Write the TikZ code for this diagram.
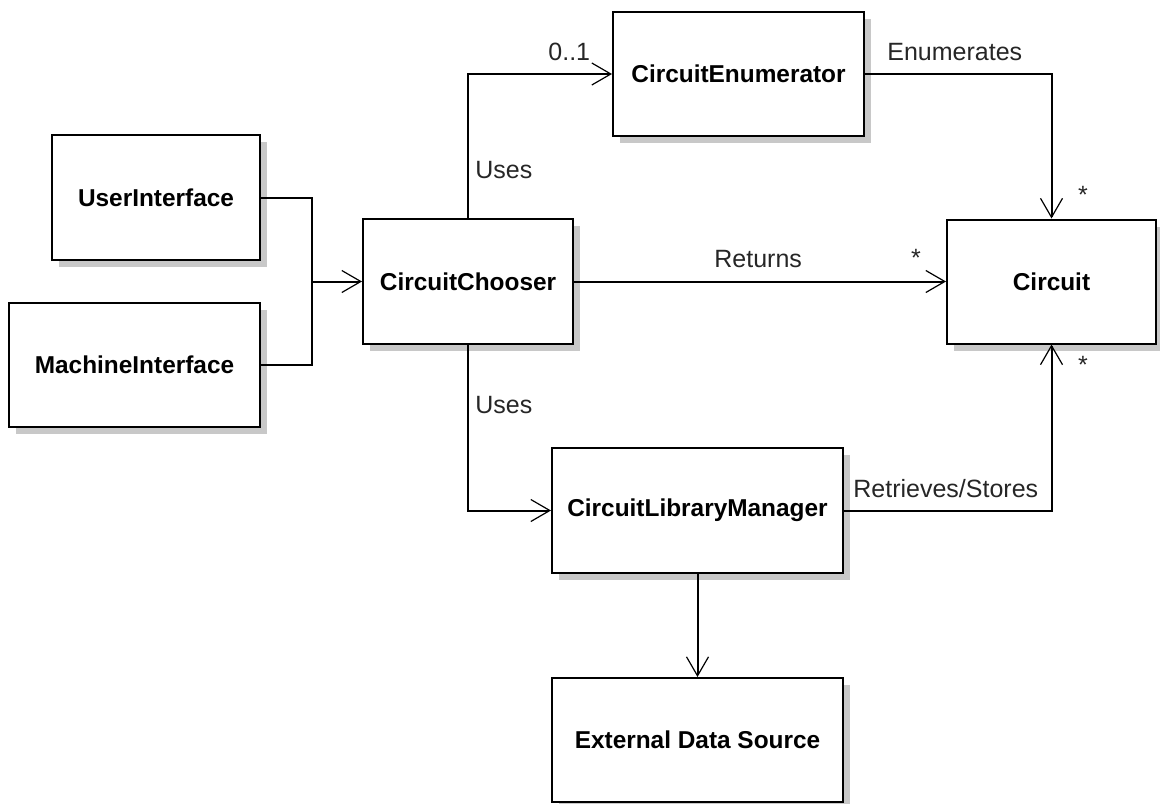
\documentclass[tikz,border=0pt]{standalone}
\usepackage{fontspec}
\setmainfont{Liberation Sans}
\usetikzlibrary{arrows.meta,shadows}
\definecolor{shadowgray}{RGB}{200,200,200}
\tikzset{
  cls/.style={draw=black, line width=1pt, fill=white, inner sep=0pt,
    font=\fontsize{12.2}{14}\selectfont\bfseries,
    drop shadow={shadow xshift=3.5pt, shadow yshift=-3.5pt, fill=shadowgray, opacity=1}},
  conn/.style={line width=1pt, draw=black},
  arr/.style={conn, -{Straight Barb[length=9.5pt, width=11pt, line width=0.6pt]}},
  lbl/.style={inner sep=0pt, font=\fontsize{12.5}{14}\selectfont, text=black!85},
}
\begin{document}
\begin{tikzpicture}[x=0.5pt, y=-0.5pt]
\useasboundingbox (0,0) rectangle (1160,803);

\node[cls, minimum width=104pt, minimum height=62.5pt] (ui) at (156,197.5) {UserInterface};
\node[cls, minimum width=125.5pt, minimum height=62pt] (mi) at (134.5,365) {MachineInterface};
\node[cls, minimum width=105pt, minimum height=62.5pt] (cc) at (468,281.5) {CircuitChooser};
\node[cls, minimum width=125.5pt, minimum height=62pt] (ce) at (738.5,74) {CircuitEnumerator};
\node[cls, minimum width=104.5pt, minimum height=62pt] (c) at (1051.5,281.5) {Circuit};
\node[cls, minimum width=145.5pt, minimum height=62.5pt] (clm) at (697.5,510.5) {CircuitLibraryManager};
\node[cls, minimum width=145.5pt, minimum height=62pt] (eds) at (697.5,740) {External Data Source};

\coordinate (j) at (312,281.5);
\draw[conn] (ui.east) -| (j);
\draw[conn] (mi.east) -| (j);
\draw[arr] (j) -- (cc.west);
\draw[arr] (cc.north) |- (ce.west);
\draw[arr] (cc.east) -- (c.west);
\draw[arr] (ce.east) -| (c.north);
\draw[arr] (cc.south) |- (clm.west);
\draw[arr] (clm.east) -| (c.south);
\draw[arr] (clm.south) -- (eds.north);

\node[lbl, anchor=base west] (l01) at (548,60) {0..1};
\node[lbl, anchor=base west] (luses1) at (475,178) {Uses};
\node[lbl, anchor=base west] (luses2) at (475,413) {Uses};
\node[lbl, anchor=base west] (lenum) at (887,60) {Enumerates};
\node[lbl, anchor=base west] (lret) at (714,267) {Returns};
\node[lbl, anchor=base west] (lrs) at (853,497) {Retrieves/Stores};
\node[lbl, anchor=center] (s1) at (1083,195) {*};
\node[lbl, anchor=center] (s2) at (916,258) {*};
\node[lbl, anchor=center] (s3) at (1083,365) {*};
\end{tikzpicture}
\end{document}
